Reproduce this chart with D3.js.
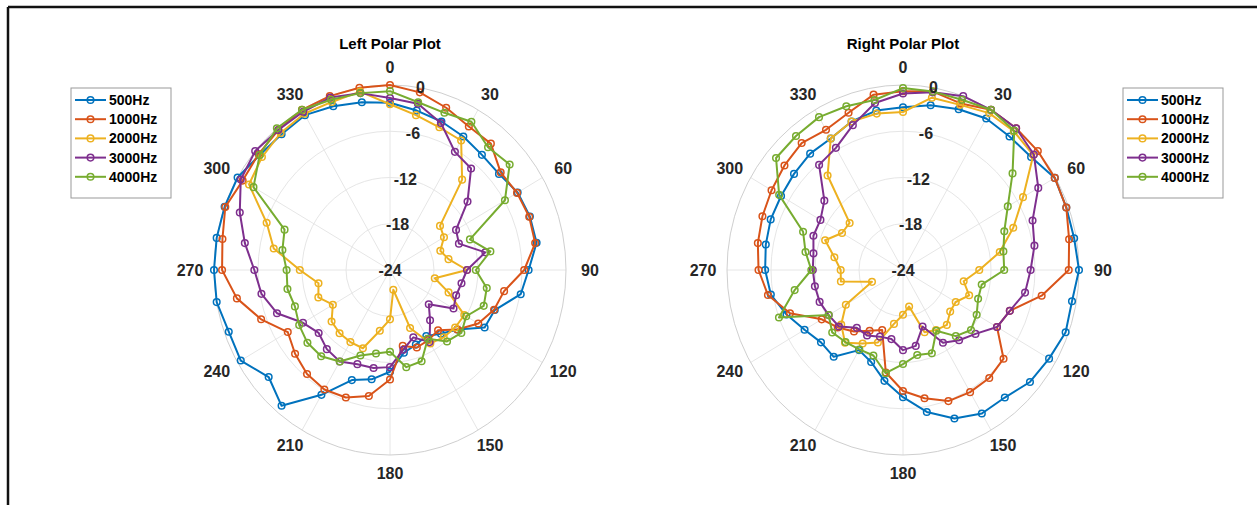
<!DOCTYPE html>
<html>
<head>
<meta charset="utf-8">
<script src="https://cdn.jsdelivr.net/npm/d3@7"></script>
<style>
  body { margin: 0; background: #fff; }
  svg { display: block; }
  text { font-family: "Liberation Sans", Arial, Helvetica, sans-serif; }
</style>
</head>
<body>
<script>
// angles in degrees, clockwise from top
const angles = d3.range(0, 360, 10);
const freqs = ["500Hz", "1000Hz", "2000Hz", "3000Hz", "4000Hz"];
const colors = ["#0072BD", "#D95319", "#EDB120", "#7E2F8E", "#77AC30"];
const rTicks = [0, -6, -12, -18, -24];
const thetaTicks = d3.range(0, 360, 30);

// left plot, dB per 10 degrees
const left500  = [-2.3,-3.0,-3.5,-4.0,-4.5,-4.6,-3.9,-3.7,-3.7,-5.1,-5.9,-8.8,-9.1,-12,-13.2,-14.1,-13.7,-13.1,
                  -10.8,-9.6,-8.8,-5.3,-1.0,-2.4,-0.5,-0.6,0,0,0,0,0,-0.8,-1.0,-0.8,-1.4,-1.9];
const left1000 = [0,-0.6,-1.6,-2.5,-2.6,-4.3,-4.0,-3.8,-3.9,-5.7,-8.2,-8.9,-10.1,-12,-13.8,-13.5,-13.3,-14,
                  -9.8,-7.4,-6.4,-6.1,-6.4,-7.1,-7.9,-5.3,-2.8,-1.1,-0.8,-0.1,-0.8,-0.6,-0.3,0,0,0];
const left2000 = [-2.5,-3.6,-4.3,-4.6,-8.7,-15.1,-15.5,-16.7,-15.9,-13.5,-17.8,-15.5,-12.3,-12.4,-12.6,-13.0,-16.0,-21.4,
                  -17.6,-16.0,-13.2,-13.2,-13.3,-13.6,-15.0,-13.6,-14.1,-11.7,-7.9,-6.1,-1.8,-1.2,-0.8,-0.6,-0.8,-0.5];
const left3000 = [-1.7,-2.1,-3.7,-6.3,-6.8,-10.2,-13.6,-14.0,-10.8,-13.5,-14.1,-14.4,-14.0,-17.1,-15.5,-13.2,-14.7,-13.5,
                  -11.4,-11.1,-11.0,-10.3,-10.6,-11.3,-10.3,-7.6,-6.2,-5.5,-3.9,-2.2,-0.5,0,-0.3,-0.3,-0.2,-0.7];
const left4000 = [-0.8,-1.9,-2.3,-1.8,-3.2,-2.7,-5.9,-12.4,-10.1,-12.3,-10.6,-10.4,-12.0,-11.3,-11.9,-13.7,-11.4,-11.2,
                  -13.4,-13.0,-12.2,-10.3,-9.4,-9.3,-9.7,-10.2,-9.8,-9.9,-9.1,-8.7,-2.5,-0.8,0,0,-0.5,-0.7];

// right plot, dB per 10 degrees
const right500  = [-2.9,-2.3,-1.8,-1.3,-1.4,-1.2,-0.1,-0.3,-0.3,0,-0.6,-0.4,-1.0,-1.4,-2.4,-2.5,-3.5,-5.3,
                   -7.5,-9.4,-11.3,-12.0,-9.3,-9.4,-8.5,-7.1,-5.7,-5.2,-5.0,-4.8,-4.8,-4.6,-4.3,-4.3,-3.5,-3.0];
const right1000 = [-0.8,-0.5,-1.0,0,0,0,-0.1,-0.3,-1.0,-1.4,-4.8,-8.5,-9.2,-6.1,-5.7,-5.7,-5.9,-7.1,
                   -8.3,-10.5,-15.7,-14.9,-13.6,-12.4,-11.2,-7.6,-5.3,-4.3,-3.9,-3.6,-3.3,-2.9,-2.5,-3.0,-2.3,-0.9];
const right2000 = [-3.5,-1.3,-1.2,-0.5,-0.5,-0.8,-5.1,-8.0,-10.6,-13.6,-15.6,-14.4,-15.7,-15.6,-14.7,-15.0,-15.4,-19.2,
                   -18.2,-16.9,-14,-13,-11.7,-13,-15,-19.5,-15.4,-15.5,-14.5,-12.7,-14.4,-14.5,-8.0,-4.3,-3.5,-3.4];
const right3000 = [-1.1,-0.6,0,0,0,-0.7,-2.7,-5.2,-5.8,-6.6,-7.1,-8.5,-9.2,-11.1,-12.1,-13.1,-16.2,-14.0,
                   -13.6,-14.9,-14.8,-14.2,-14.2,-12.6,-12.3,-11.9,-11.8,-11.7,-11.6,-11,-11,-10,-6.2,-5.7,-4.0,-2.0];
const right4000 = [-0.4,-0.5,-0.5,0,-0.4,-4.5,-7.5,-9.3,-10.1,-10.2,-13.1,-13.1,-12.4,-11.9,-12.8,-14.9,-12.5,-12.8,
                   -11.8,-10.4,-12.2,-12.1,-11.8,-11.4,-12.3,-6,-9,-11.5,-10.5,-9.5,-4.5,-1.4,-1.3,-1.1,-1.4,-1.6];

const W = 1257, H = 505;
const svg = d3.select("body").append("svg").attr("width", W).attr("height", H);

// frame (top and left edges of the screenshot)
svg.append("line").attr("x1", 8).attr("x2", W).attr("y1", 7).attr("y2", 7)
    .attr("stroke", "#111").attr("stroke-width", 2.5);
svg.append("line").attr("x1", 8).attr("x2", 8).attr("y1", 7).attr("y2", H)
    .attr("stroke", "#111").attr("stroke-width", 2.5);

function polar(cx, cy, title, series, legendX) {
  const rx = 176, ry = 185;
  const r = d3.scaleLinear().domain([-24, 0]).range([0, 1]).clamp(true);
  const px = (a, v) => cx + rx * r(v) * Math.sin(a * Math.PI / 180);
  const py = (a, v) => cy - ry * r(v) * Math.cos(a * Math.PI / 180);
  const g = svg.append("g");

  // grid
  rTicks.slice(1, 4).forEach(t => {
    g.append("ellipse").attr("cx", cx).attr("cy", cy)
        .attr("rx", rx * r(t)).attr("ry", ry * r(t))
        .attr("fill", "none").attr("stroke", "#e6e6e6").attr("stroke-width", 1);
  });
  thetaTicks.forEach(a => {
    g.append("line").attr("x1", cx).attr("y1", cy)
        .attr("x2", px(a, 0)).attr("y2", py(a, 0))
        .attr("stroke", "#e6e6e6").attr("stroke-width", 1);
  });
  g.append("ellipse").attr("cx", cx).attr("cy", cy).attr("rx", rx).attr("ry", ry)
      .attr("fill", "none").attr("stroke", "#cfcfcf").attr("stroke-width", 1);

  // theta labels
  thetaTicks.forEach(a => {
    const t = a * Math.PI / 180;
    g.append("text")
        .attr("x", cx + (rx + 24) * Math.sin(t))
        .attr("y", cy - (ry + 18) * Math.cos(t))
        .attr("text-anchor", "middle").attr("dy", "0.35em")
        .attr("font-size", 16).attr("font-weight", "bold").attr("fill", "#262626")
        .text(a);
  });

  // series
  const line = d3.line()
      .x((v, i) => px(angles[i], v))
      .y((v, i) => py(angles[i], v))
      .curve(d3.curveLinearClosed);
  series.forEach((s, k) => {
    g.append("path").datum(s)
        .attr("fill", "none").attr("stroke", colors[k]).attr("stroke-width", 2)
        .attr("stroke-linejoin", "round").attr("d", line);
    g.append("g").selectAll("circle").data(s).join("circle")
        .attr("cx", (v, i) => px(angles[i], v))
        .attr("cy", (v, i) => py(angles[i], v))
        .attr("r", 3.3)
        .attr("fill", "none").attr("stroke", colors[k]).attr("stroke-width", 1.5);
  });

  // r labels along 10 degrees
  rTicks.forEach(t => {
    g.append("text")
        .attr("x", px(10, t)).attr("y", py(10, t))
        .attr("text-anchor", "middle").attr("dy", "0.35em")
        .attr("font-size", 16).attr("font-weight", "bold").attr("fill", "#262626")
        .text(t);
  });

  // title
  svg.append("text").attr("x", cx).attr("y", 44)
      .attr("text-anchor", "middle").attr("dy", "0.35em")
      .attr("font-size", 15).attr("font-weight", "bold").attr("fill", "#000")
      .text(title);

  // legend
  const lg = svg.append("g").attr("transform", `translate(${legendX},88)`);
  lg.append("rect").attr("x", 0).attr("y", 0).attr("width", 100).attr("height", 110)
      .attr("fill", "#fff").attr("stroke", "#999").attr("stroke-width", 1);
  freqs.forEach((f, k) => {
    const y = 12 + k * 19.2;
    lg.append("line").attr("x1", 4).attr("x2", 35).attr("y1", y).attr("y2", y)
        .attr("stroke", colors[k]).attr("stroke-width", 2);
    lg.append("circle").attr("cx", 19.5).attr("cy", y).attr("r", 3.3)
        .attr("fill", "none").attr("stroke", colors[k]).attr("stroke-width", 1.5);
    lg.append("text").attr("x", 38).attr("y", y).attr("dy", "0.35em")
        .attr("font-size", 14).attr("font-weight", "bold").attr("fill", "#000")
        .text(f);
  });
}

polar(390, 270, "Left Polar Plot", [left500, left1000, left2000, left3000, left4000], 71);
polar(903, 270, "Right Polar Plot", [right500, right1000, right2000, right3000, right4000], 1123);
</script>
</body>
</html>
